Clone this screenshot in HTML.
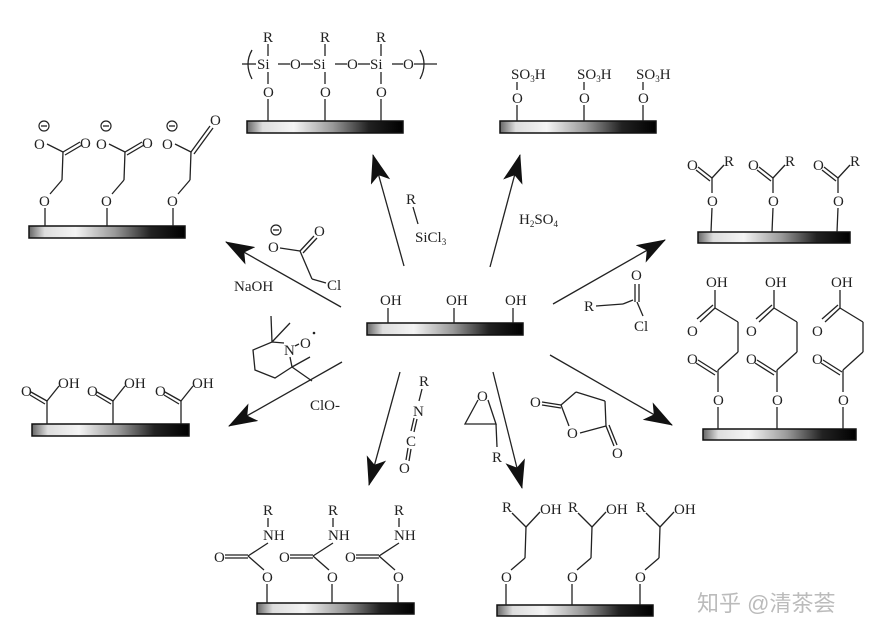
<!DOCTYPE html>
<html><head><meta charset="utf-8"><style>
html,body{margin:0;padding:0;background:#fff;}
svg{display:block;}
text{font-family:"Liberation Serif",serif;font-size:15px;fill:#222;}
.s{font-size:9px;}
line,polyline,path.b,polygon.r{stroke:#222;stroke-width:1.3;fill:none;}
</style></head><body>
<svg width="884" height="640" viewBox="0 0 884 640" xmlns="http://www.w3.org/2000/svg">
<defs>
<linearGradient id="g" x1="0" x2="1" y1="0" y2="0">
<stop offset="0" stop-color="#666"/><stop offset="0.1" stop-color="#ddd"/><stop offset="0.3" stop-color="#f4f4f4"/><stop offset="0.55" stop-color="#999"/><stop offset="0.78" stop-color="#222"/><stop offset="1" stop-color="#000"/>
</linearGradient>
<marker id="a" markerUnits="userSpaceOnUse" markerWidth="32" markerHeight="22" refX="28" refY="10" orient="auto">
<path d="M0,0 L29,10 L0,20 L7,10 z" fill="#111"/>
</marker>
</defs>
<g stroke="#111" stroke-width="1.5" fill="url(#g)">
<rect x="367" y="323" width="156" height="12"/>
<rect x="247" y="121" width="156" height="12"/>
<rect x="500" y="121" width="156" height="12"/>
<rect x="29" y="226" width="156" height="12"/>
<rect x="698" y="232" width="152" height="11"/>
<rect x="703" y="429" width="153" height="11"/>
<rect x="32" y="424" width="157" height="12"/>
<rect x="257" y="603" width="157" height="11"/>
<rect x="497" y="605" width="156" height="11"/>
</g>
<!-- arrows -->
<g stroke="#111" stroke-width="1.4" marker-end="url(#a)">
<line x1="404" y1="266" x2="373" y2="155"/>
<line x1="490" y1="267" x2="520" y2="155"/>
<line x1="341" y1="307" x2="226" y2="242"/>
<line x1="553" y1="304" x2="665" y2="240"/>
<line x1="342" y1="362" x2="229" y2="426"/>
<line x1="400" y1="372" x2="369" y2="485"/>
<line x1="493" y1="372" x2="522" y2="488"/>
<line x1="550" y1="355" x2="672" y2="425"/>
</g>
<!-- center -->
<text x="380" y="305">OH</text><text x="446" y="305">OH</text><text x="505" y="305">OH</text>
<line x1="388" y1="308" x2="388" y2="323"/><line x1="454" y1="308" x2="454" y2="323"/><line x1="513" y1="308" x2="513" y2="323"/>
<!-- silicone top -->
<text x="263" y="42">R</text><text x="320" y="42">R</text><text x="376" y="42">R</text>
<text x="257" y="69">Si</text><text x="313" y="69">Si</text><text x="370" y="69">Si</text>
<text x="290" y="69">O</text><text x="347" y="69">O</text><text x="403" y="69">O</text>
<text x="263" y="97">O</text><text x="320" y="97">O</text><text x="376" y="97">O</text>
<line x1="268" y1="44" x2="268" y2="56"/><line x1="325" y1="44" x2="325" y2="56"/><line x1="381" y1="44" x2="381" y2="56"/>
<line x1="268" y1="72" x2="268" y2="84"/><line x1="325" y1="72" x2="325" y2="84"/><line x1="381" y1="72" x2="381" y2="84"/>
<line x1="268" y1="99" x2="268" y2="121"/><line x1="325" y1="99" x2="325" y2="121"/><line x1="381" y1="99" x2="381" y2="121"/>
<line x1="242" y1="64" x2="256" y2="64"/><line x1="278" y1="64" x2="290" y2="64"/><line x1="301" y1="64" x2="313" y2="64"/><line x1="335" y1="64" x2="347" y2="64"/><line x1="358" y1="64" x2="370" y2="64"/><line x1="392" y1="64" x2="403" y2="64"/><line x1="414" y1="64" x2="437" y2="64"/>
<path class="b" d="M252,50 Q244,64 252,79"/><path class="b" d="M420,50 Q428,64 420,79"/>
<!-- SO3H -->
<text x="511" y="79">SO<tspan class="s" dy="3">3</tspan><tspan dy="-3">H</tspan></text>
<text x="577" y="79">SO<tspan class="s" dy="3">3</tspan><tspan dy="-3">H</tspan></text>
<text x="636" y="79">SO<tspan class="s" dy="3">3</tspan><tspan dy="-3">H</tspan></text>
<text x="512" y="103">O</text><text x="579" y="103">O</text><text x="638" y="103">O</text>
<line x1="517" y1="82" x2="517" y2="90"/><line x1="584" y1="82" x2="584" y2="90"/><line x1="643" y1="82" x2="643" y2="90"/>
<line x1="517" y1="105" x2="517" y2="121"/><line x1="584" y1="105" x2="584" y2="121"/><line x1="643" y1="105" x2="643" y2="121"/>
<!-- left carboxylate -->
<g>
<text x="34" y="149">O</text><circle cx="44" cy="126" r="5" fill="none" stroke="#222" stroke-width="1.2"/><line x1="41" y1="126" x2="47" y2="126"/>
<text x="80" y="148">O</text>
<line x1="47" y1="144" x2="63" y2="152"/><line x1="63" y1="152" x2="80" y2="142"/><line x1="65" y1="155" x2="82" y2="145"/>
<line x1="63" y1="152" x2="62" y2="180"/><line x1="62" y1="180" x2="50" y2="194"/>
<text x="39" y="206">O</text><line x1="45" y1="208" x2="45" y2="226"/>
</g>
<g transform="translate(62,0)">
<text x="34" y="149">O</text><circle cx="44" cy="126" r="5" fill="none" stroke="#222" stroke-width="1.2"/><line x1="41" y1="126" x2="47" y2="126"/>
<text x="80" y="148">O</text>
<line x1="47" y1="144" x2="63" y2="152"/><line x1="63" y1="152" x2="80" y2="142"/><line x1="65" y1="155" x2="82" y2="145"/>
<line x1="63" y1="152" x2="62" y2="180"/><line x1="62" y1="180" x2="50" y2="194"/>
<text x="39" y="206">O</text><line x1="45" y1="208" x2="45" y2="226"/>
</g>
<g transform="translate(128,0)">
<text x="34" y="149">O</text><circle cx="44" cy="126" r="5" fill="none" stroke="#222" stroke-width="1.2"/><line x1="41" y1="126" x2="47" y2="126"/>
<text x="82" y="125">O</text>
<line x1="47" y1="144" x2="63" y2="152"/><line x1="63" y1="152" x2="82" y2="126"/><line x1="66" y1="154" x2="85" y2="128"/>
<line x1="63" y1="152" x2="62" y2="180"/><line x1="62" y1="180" x2="50" y2="194"/>
<text x="39" y="206">O</text><line x1="45" y1="208" x2="45" y2="226"/>
</g>
<!-- right acyl -->
<g>
<text x="687" y="170">O</text><text x="724" y="166">R</text>
<line x1="698" y1="167" x2="712" y2="178"/><line x1="696" y1="170" x2="710" y2="181"/><line x1="712" y1="178" x2="724" y2="165"/>
<line x1="712" y1="178" x2="712" y2="193"/><text x="707" y="206">O</text><line x1="712" y1="208" x2="711" y2="232"/>
</g>
<g transform="translate(61,0)">
<text x="687" y="170">O</text><text x="724" y="166">R</text>
<line x1="698" y1="167" x2="712" y2="178"/><line x1="696" y1="170" x2="710" y2="181"/><line x1="712" y1="178" x2="724" y2="165"/>
<line x1="712" y1="178" x2="712" y2="193"/><text x="707" y="206">O</text><line x1="712" y1="208" x2="711" y2="232"/>
</g>
<g transform="translate(126,0)">
<text x="687" y="170">O</text><text x="724" y="166">R</text>
<line x1="698" y1="167" x2="712" y2="178"/><line x1="696" y1="170" x2="710" y2="181"/><line x1="712" y1="178" x2="724" y2="165"/>
<line x1="712" y1="178" x2="712" y2="193"/><text x="707" y="206">O</text><line x1="712" y1="208" x2="711" y2="232"/>
</g>
<!-- succinate right -->
<g>
<text x="706" y="287">OH</text><line x1="715" y1="290" x2="715" y2="308"/>
<line x1="715" y1="308" x2="738" y2="322"/><line x1="715" y1="308" x2="700" y2="322"/><line x1="713" y1="305" x2="697" y2="319"/>
<text x="687" y="336">O</text>
<line x1="738" y1="322" x2="738" y2="352"/><line x1="738" y1="352" x2="718" y2="370"/>
<text x="687" y="364">O</text><line x1="698" y1="360" x2="717" y2="372"/><line x1="696" y1="363" x2="715" y2="375"/>
<line x1="718" y1="370" x2="718" y2="392"/><text x="713" y="405">O</text><line x1="718" y1="407" x2="718" y2="429"/>
</g>
<g transform="translate(59,0)">
<text x="706" y="287">OH</text><line x1="715" y1="290" x2="715" y2="308"/>
<line x1="715" y1="308" x2="738" y2="322"/><line x1="715" y1="308" x2="700" y2="322"/><line x1="713" y1="305" x2="697" y2="319"/>
<text x="687" y="336">O</text>
<line x1="738" y1="322" x2="738" y2="352"/><line x1="738" y1="352" x2="718" y2="370"/>
<text x="687" y="364">O</text><line x1="698" y1="360" x2="717" y2="372"/><line x1="696" y1="363" x2="715" y2="375"/>
<line x1="718" y1="370" x2="718" y2="392"/><text x="713" y="405">O</text><line x1="718" y1="407" x2="718" y2="429"/>
</g>
<g transform="translate(125,0)">
<text x="706" y="287">OH</text><line x1="715" y1="290" x2="715" y2="308"/>
<line x1="715" y1="308" x2="738" y2="322"/><line x1="715" y1="308" x2="700" y2="322"/><line x1="713" y1="305" x2="697" y2="319"/>
<text x="687" y="336">O</text>
<line x1="738" y1="322" x2="738" y2="352"/><line x1="738" y1="352" x2="718" y2="370"/>
<text x="687" y="364">O</text><line x1="698" y1="360" x2="717" y2="372"/><line x1="696" y1="363" x2="715" y2="375"/>
<line x1="718" y1="370" x2="718" y2="392"/><text x="713" y="405">O</text><line x1="718" y1="407" x2="718" y2="429"/>
</g>
<!-- left COOH -->
<g>
<text x="21" y="396">O</text><text x="58" y="388">OH</text>
<line x1="31" y1="392" x2="47" y2="401"/><line x1="30" y1="395" x2="45" y2="404"/><line x1="47" y1="401" x2="59" y2="386"/>
<line x1="47" y1="401" x2="47" y2="424"/>
</g>
<g transform="translate(66,0)">
<text x="21" y="396">O</text><text x="58" y="388">OH</text>
<line x1="31" y1="392" x2="47" y2="401"/><line x1="30" y1="395" x2="45" y2="404"/><line x1="47" y1="401" x2="59" y2="386"/>
<line x1="47" y1="401" x2="47" y2="424"/>
</g>
<g transform="translate(134,0)">
<text x="21" y="396">O</text><text x="58" y="388">OH</text>
<line x1="31" y1="392" x2="47" y2="401"/><line x1="30" y1="395" x2="45" y2="404"/><line x1="47" y1="401" x2="59" y2="386"/>
<line x1="47" y1="401" x2="47" y2="424"/>
</g>
<!-- carbamate -->
<g>
<text x="263" y="515">R</text><line x1="268" y1="518" x2="268" y2="527"/>
<text x="263" y="540">NH</text><line x1="268" y1="543" x2="248" y2="556"/>
<text x="214" y="562">O</text><line x1="225" y1="555" x2="248" y2="555"/><line x1="225" y1="558" x2="248" y2="558"/>
<line x1="248" y1="556" x2="264" y2="570"/><text x="262" y="582">O</text><line x1="267" y1="584" x2="267" y2="603"/>
</g>
<g transform="translate(65,0)">
<text x="263" y="515">R</text><line x1="268" y1="518" x2="268" y2="527"/>
<text x="263" y="540">NH</text><line x1="268" y1="543" x2="248" y2="556"/>
<text x="214" y="562">O</text><line x1="225" y1="555" x2="248" y2="555"/><line x1="225" y1="558" x2="248" y2="558"/>
<line x1="248" y1="556" x2="264" y2="570"/><text x="262" y="582">O</text><line x1="267" y1="584" x2="267" y2="603"/>
</g>
<g transform="translate(131,0)">
<text x="263" y="515">R</text><line x1="268" y1="518" x2="268" y2="527"/>
<text x="263" y="540">NH</text><line x1="268" y1="543" x2="248" y2="556"/>
<text x="214" y="562">O</text><line x1="225" y1="555" x2="248" y2="555"/><line x1="225" y1="558" x2="248" y2="558"/>
<line x1="248" y1="556" x2="264" y2="570"/><text x="262" y="582">O</text><line x1="267" y1="584" x2="267" y2="603"/>
</g>
<!-- epoxide product -->
<g>
<text x="502" y="512">R</text><text x="540" y="514">OH</text>
<line x1="512" y1="513" x2="526" y2="527"/><line x1="526" y1="527" x2="540" y2="512"/>
<line x1="526" y1="527" x2="525" y2="558"/><line x1="525" y1="558" x2="511" y2="570"/>
<text x="501" y="582">O</text><line x1="506" y1="584" x2="506" y2="605"/>
</g>
<g transform="translate(66,0)">
<text x="502" y="512">R</text><text x="540" y="514">OH</text>
<line x1="512" y1="513" x2="526" y2="527"/><line x1="526" y1="527" x2="540" y2="512"/>
<line x1="526" y1="527" x2="525" y2="558"/><line x1="525" y1="558" x2="511" y2="570"/>
<text x="501" y="582">O</text><line x1="506" y1="584" x2="506" y2="605"/>
</g>
<g transform="translate(134,0)">
<text x="502" y="512">R</text><text x="540" y="514">OH</text>
<line x1="512" y1="513" x2="526" y2="527"/><line x1="526" y1="527" x2="540" y2="512"/>
<line x1="526" y1="527" x2="525" y2="558"/><line x1="525" y1="558" x2="511" y2="570"/>
<text x="501" y="582">O</text><line x1="506" y1="584" x2="506" y2="605"/>
</g>
<!-- reagents -->
<text x="406" y="204">R</text><line x1="413" y1="207" x2="418" y2="224"/>
<text x="415" y="242">SiCl<tspan class="s" dy="3">3</tspan></text>
<text x="519" y="224">H<tspan class="s" dy="3">2</tspan><tspan dy="-3">SO</tspan><tspan class="s" dy="3">4</tspan></text>
<text x="234" y="291">NaOH</text>
<text x="268" y="252">O</text><circle cx="276" cy="230" r="5" fill="none" stroke="#222" stroke-width="1.2"/><line x1="273" y1="230" x2="279" y2="230"/>
<line x1="280" y1="248" x2="300" y2="251"/><line x1="300" y1="251" x2="314" y2="236"/><line x1="303" y1="253" x2="317" y2="238"/>
<text x="314" y="236">O</text><line x1="300" y1="251" x2="312" y2="279"/><line x1="312" y1="279" x2="326" y2="283"/>
<text x="327" y="290">Cl</text>
<text x="631" y="280">O</text><line x1="635" y1="284" x2="635" y2="302"/><line x1="639" y1="284" x2="639" y2="302"/>
<text x="584" y="311">R</text><line x1="596" y1="306" x2="623" y2="304"/><line x1="623" y1="304" x2="633" y2="300"/>
<line x1="637" y1="302" x2="643" y2="316"/><text x="634" y="331">Cl</text>
<!-- TEMPO -->
<polyline points="284,343 272,342 253,350 255,370 275,378 292,367 290,357"/>
<line x1="272" y1="342" x2="271" y2="316"/><line x1="272" y1="342" x2="290" y2="323"/>
<line x1="292" y1="367" x2="310" y2="357"/><line x1="292" y1="367" x2="312" y2="381"/>
<text x="284" y="355">N</text><line x1="295" y1="346" x2="299" y2="344"/>
<text x="300" y="348">O</text><circle cx="314" cy="333" r="1.3" fill="#222"/>
<text x="310" y="410">ClO-</text>
<!-- isocyanate -->
<text x="419" y="386">R</text><line x1="422" y1="389" x2="419" y2="401"/>
<text x="413" y="416">N</text>
<line x1="414" y1="418" x2="411" y2="431"/><line x1="417" y1="419" x2="414" y2="432"/>
<text x="406" y="446">C</text>
<line x1="408" y1="448" x2="406" y2="460"/><line x1="411" y1="449" x2="409" y2="461"/>
<text x="399" y="473">O</text>
<!-- epoxide reagent -->
<text x="477" y="401">O</text><polyline points="478,400 465,424 496,424 488,400"/>
<line x1="496" y1="424" x2="497" y2="447"/><text x="492" y="462">R</text>
<!-- succinic anhydride -->
<text x="530" y="407">O</text><text x="567" y="438">O</text><text x="612" y="458">O</text>
<line x1="542" y1="402" x2="561" y2="405"/><line x1="542" y1="405" x2="561" y2="408"/>
<line x1="561" y1="405" x2="576" y2="392"/><line x1="576" y1="392" x2="605" y2="401"/><line x1="605" y1="401" x2="606" y2="426"/>
<line x1="561" y1="405" x2="569" y2="426"/><line x1="580" y1="433" x2="606" y2="426"/>
<line x1="606" y1="426" x2="614" y2="446"/><line x1="609" y1="425" x2="617" y2="445"/>
<!-- watermark -->
<text x="697" y="611" style="font-family:'Liberation Sans','Noto Sans CJK SC',sans-serif;font-size:22px;fill:#bbb;">知乎 @清茶荟</text>
</svg>
</body></html>
